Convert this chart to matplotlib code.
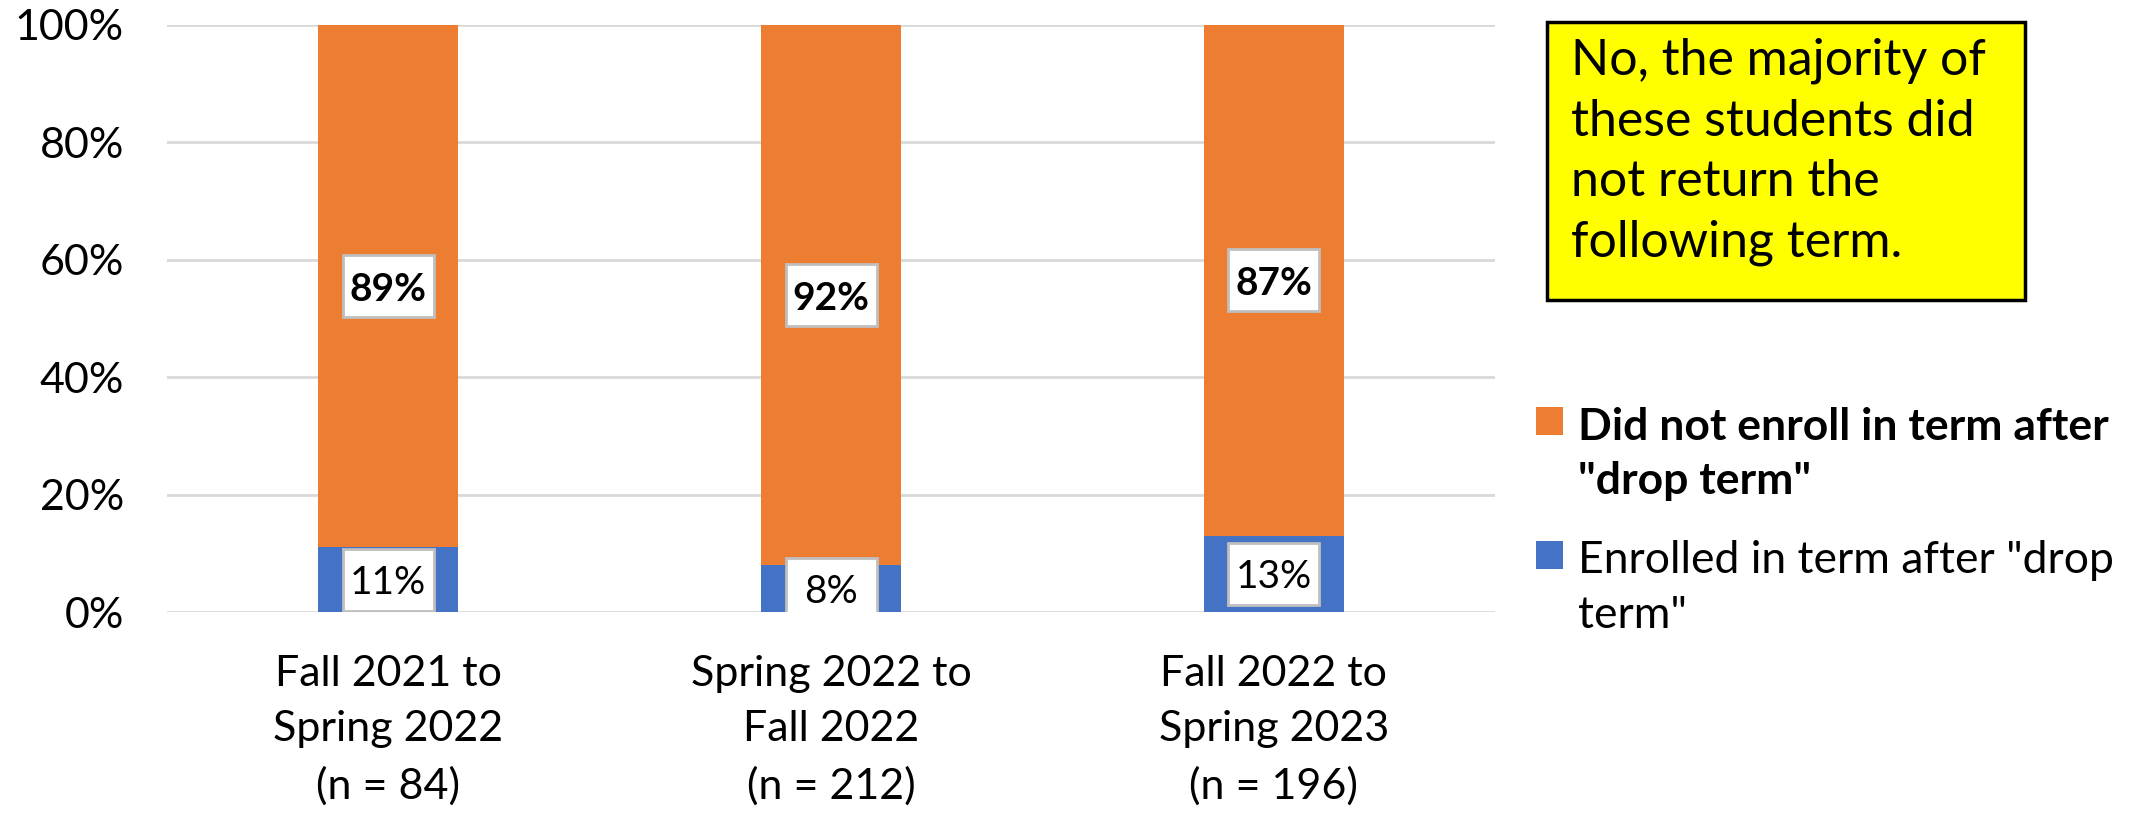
import matplotlib
matplotlib.use("Agg")
import matplotlib.pyplot as plt
from matplotlib.patches import Rectangle
from matplotlib.transforms import ScaledTranslation
import numpy as np

plt.rcParams['font.family'] = ['Lato', 'DejaVu Sans']

categories = ["Fall 2021 to\nSpring 2022\n(n = 84)",
              "Spring 2022 to\nFall 2022\n(n = 212)",
              "Fall 2022 to\nSpring 2023\n(n = 196)"]
enrolled = [11, 8, 13]
not_enrolled = [89, 92, 87]
series_names = ['Did not enroll in term after\n"drop term"',
                'Enrolled in term after "drop\nterm"']
yticks = [0, 20, 40, 60, 80, 100]
callout = "No, the majority of\nthese students did\nnot return the\nfollowing term."

ORANGE = "#ED7D31"
BLUE = "#4472C4"
GRID = "#D9D9D9"

W, H = 2142, 815
fig = plt.figure(figsize=(W / 100, H / 100), dpi=100)
ax = fig.add_axes([167 / W, 1 - 612 / H, (1495 - 167) / W, (612 - 25) / H])

x = np.arange(len(categories))
bw = 0.316
ax.bar(x, enrolled, width=bw, color=BLUE, zorder=2)
ax.bar(x, not_enrolled, width=bw, bottom=enrolled, color=ORANGE, zorder=2)


def label(xc, yc, txt, weight):
    tr = fig.dpi_scale_trans + ScaledTranslation(xc, yc, ax.transData)
    ax.add_patch(Rectangle((-0.455, -0.31), 0.91, 0.62, transform=tr,
                           fc="white", ec="#BFBFBF", lw=2, zorder=3))
    ax.text(xc, yc, txt, ha="center", va="center_baseline", fontsize=28,
            fontweight=weight, zorder=4)


for i in range(len(categories)):
    label(x[i], enrolled[i] / 2, f"{enrolled[i]}%", "normal")
    label(x[i], enrolled[i] + not_enrolled[i] / 2, f"{not_enrolled[i]}%", "bold")

ax.set_xlim(-0.5, len(categories) - 0.5)
ax.set_ylim(0, 100)
ax.set_yticks(yticks)
ax.set_yticklabels([f"{v}%" for v in yticks], fontsize=31)
ax.set_xticks(x)
ax.set_xticklabels(categories, fontsize=31, linespacing=1.56)
ax.tick_params(axis="y", length=0, pad=31)
ax.tick_params(axis="x", length=0, pad=31)
ax.yaxis.grid(True, color=GRID, lw=2, zorder=0)
ax.set_axisbelow(True)
for s in ax.spines.values():
    s.set_visible(False)

# callout box
fig.patches.append(Rectangle((1547 / W, 1 - 300 / H), (2025 - 1547) / W, (300 - 22) / H,
                             transform=fig.transFigure, fc="#FFFF00", ec="black", lw=2.5))
fig.text(1571 / W, 1 - 152 / H, callout, ha="left", va="center", fontsize=36,
         linespacing=1.39)

# legend
colors = [ORANGE, BLUE]
weights = ["bold", "normal"]
centers = [454, 588]
for name, c, wgt, yc in zip(series_names, colors, weights, centers):
    sq = yc - 33
    fig.patches.append(Rectangle((1536 / W, 1 - (sq + 14) / H), 27 / W, 28 / H,
                                 transform=fig.transFigure, fc=c, ec="none"))
    fig.text(1578 / W, 1 - yc / H, name, ha="left", va="center", fontsize=32,
             fontweight=wgt, linespacing=1.45)

fig.savefig("out.png", dpi=100)
